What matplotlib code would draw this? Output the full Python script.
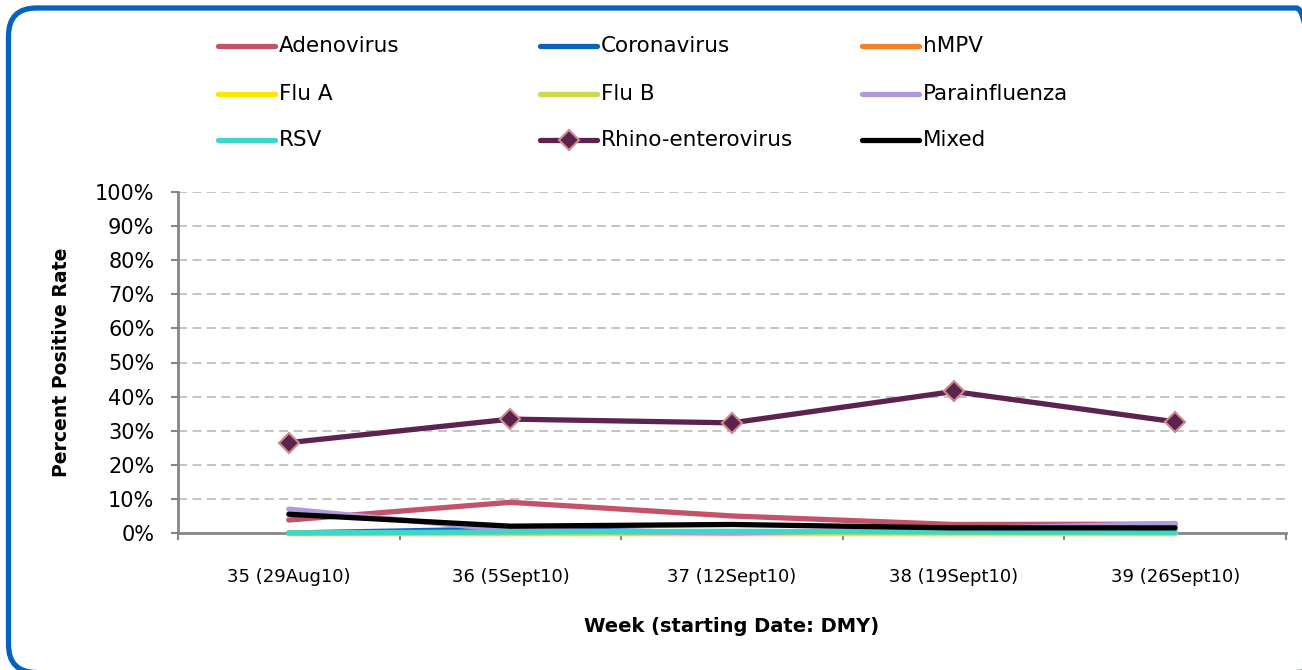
import matplotlib
matplotlib.use("Agg")
import matplotlib.pyplot as plt
from matplotlib.lines import Line2D
from matplotlib.patches import FancyBboxPatch
from matplotlib.transforms import IdentityTransform
from matplotlib.ticker import FixedLocator, PercentFormatter

plt.rcParams['font.family'] = ['DejaVu Sans']

# data (percent positive rate)
weeks = ['35 (29Aug10)', '36 (5Sept10)', '37 (12Sept10)', '38 (19Sept10)', '39 (26Sept10)']
series_names = ['Adenovirus', 'Coronavirus', 'hMPV',
                'Flu A', 'Flu B', 'Parainfluenza',
                'RSV', 'Rhino-enterovirus', 'Mixed']
adenovirus = [3.8, 9.0, 5.0, 2.5, 2.6]
coronavirus = [0.0, 1.2, 0.0, 0.0, 0.0]
hmpv = [0.0, 0.0, 0.0, 0.0, 0.0]
flu_a = [0.0, 0.0, 0.0, 0.0, 0.0]
flu_b = [0.0, 0.0, 0.2, 0.2, 0.0]
parainfluenza = [7.0, 0.8, 0.0, 1.2, 2.8]
rsv = [0.0, 0.3, 0.5, 0.3, 0.2]
rhino = [26.5, 33.4, 32.3, 41.5, 32.6]
mixed = [5.5, 2.0, 2.5, 1.5, 1.5]
values = [adenovirus, coronavirus, hmpv, flu_a, flu_b, parainfluenza, rsv, rhino, mixed]
colors = ['#C4536A', '#0A64BE', '#F58025', '#FFE600', '#CFD84A',
          '#B09ADB', '#3DD6C8', '#5C2350', '#000000']

fig = plt.figure(figsize=(13.02, 6.70), dpi=100)
ax = fig.add_axes([178 / 1302, 1 - 533 / 670, (1286 - 178) / 1302, (533 - 192) / 670])

x = list(range(len(weeks)))
for i, (name, vals, c) in enumerate(zip(series_names, values, colors)):
    if name == 'Rhino-enterovirus':
        ax.plot(x, vals, color=c, lw=3.8, marker='D', ms=10, mfc=c, mec='#D08A8A',
                mew=1.5, zorder=3 + i, solid_capstyle='round', clip_on=False)
    else:
        ax.plot(x, vals, color=c, lw=3.8, zorder=3 + i, solid_capstyle='round',
                clip_on=False)

ax.set_xlim(-0.5, 4.5)
ax.set_ylim(0, 100)
ax.yaxis.set_major_locator(FixedLocator(range(0, 101, 10)))
ax.yaxis.set_major_formatter(PercentFormatter(decimals=0))
ax.set_xticks(x)
ax.set_xticklabels(weeks, fontsize=13)
ax.xaxis.set_minor_locator(FixedLocator([i + 0.5 for i in range(-1, 5)]))
ax.tick_params(axis='x', which='major', length=0, pad=25)
ax.tick_params(axis='x', which='minor', length=5, color='#868686', width=1.5)
ax.tick_params(axis='y', length=5, color='#868686', width=1.5, labelsize=15, pad=12)

for y in range(10, 101, 10):
    ax.axhline(y, color='#BFBFBF', lw=1.3, ls=(0, (5, 3)), zorder=1)

for s in ['top', 'right']:
    ax.spines[s].set_visible(False)
for s in ['left', 'bottom']:
    ax.spines[s].set_color('#868686')
    ax.spines[s].set_linewidth(2)

ax.set_ylabel('Percent Positive Rate', fontsize=13.6, fontweight='bold', va='center')
ax.yaxis.set_label_coords((62 - 178) / 1108, 0.5)
ax.set_xlabel('Week (starting Date: DMY)', fontsize=14, fontweight='bold', va='center')
ax.xaxis.set_label_coords(0.5, (533 - 626) / 341)

# legend drawn by hand: 3 columns x 3 rows
col_x = [218, 540, 862]
row_y = [46, 94, 140]
for i, (name, c) in enumerate(zip(series_names, colors)):
    cx = col_x[i % 3]
    cy = row_y[i // 3]
    x0, x1 = cx / 1302, (cx + 57) / 1302
    yy = 1 - cy / 670
    fig.add_artist(Line2D([x0, x1], [yy, yy], color=c, lw=3.8, solid_capstyle='round'))
    if name == 'Rhino-enterovirus':
        fig.add_artist(Line2D([(x0 + x1) / 2], [yy], marker='D', ms=10, mfc=c,
                              mec='#D08A8A', mew=1.5, color=c))
    fig.text((cx + 61) / 1302, yy, name, fontsize=15.5, va='center', ha='left')

# rounded border (right and bottom run off the image)
box = FancyBboxPatch((8.5, -2.5), 1316, 664.5, boxstyle='round,pad=0,rounding_size=28',
                     transform=IdentityTransform(), fill=False, ec='#0563C0', lw=3.8)
fig.add_artist(box)

fig.savefig('out.png', dpi=100)
